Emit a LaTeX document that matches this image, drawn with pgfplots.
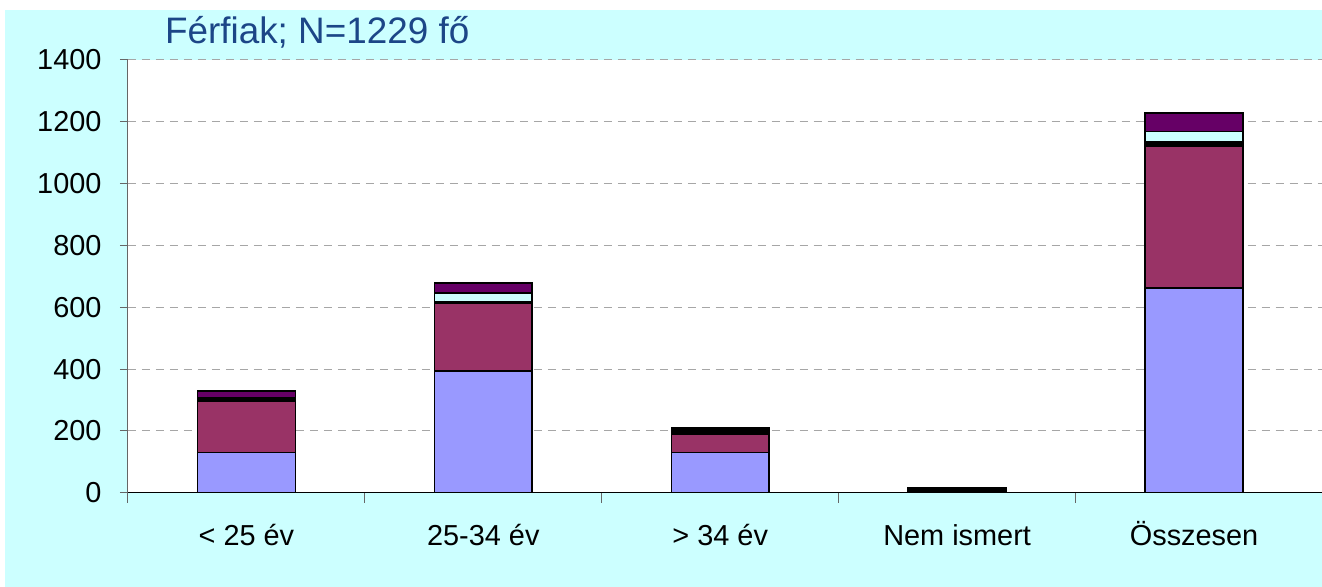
\documentclass[border=0pt]{standalone}
\usepackage{pgfplots}
\pgfplotsset{compat=1.18}
\usepackage{fontspec}
\setmainfont{Liberation Sans}
\definecolor{lav}{HTML}{9999FF}
\definecolor{mar}{HTML}{993366}
\definecolor{cya}{HTML}{CCFFFF}
\definecolor{pur}{HTML}{660066}
\definecolor{bgc}{HTML}{CCFFFF}
\definecolor{ttl}{RGB}{28,70,135}
\begin{document}
\begin{tikzpicture}[x=1bp,y=1bp]
\fill[white] (0,0) rectangle (1322,587);
\fill[bgc] (5,0) rectangle (1322,577);
\begin{axis}[
  at={(128bp,94bp)}, anchor=south west,
  scale only axis, width=1194bp, height=433bp,
  xmin=-0.5, xmax=4.538, ymin=0, ymax=1400,
  ybar stacked, bar width=0.413,
  axis background/.style={fill=white},
  axis x line*=bottom, axis y line*=left,
  x axis line style={black, line width=1bp},
  y axis line style={gray!80!black, line width=1bp},
  xtick={0,1,2,3,4},
  xticklabels={{< 25 év},{25-34 év},{> 34 év},{Nem ismert},{Összesen}},
  major x tick style={draw=none},
  minor xtick={-0.5,0.5,1.5,2.5,3.5},
  minor x tick style={gray!80!black, line width=1bp},
  minor tick length=10bp,
  ytick={0,200,...,1400},
  y tick style={gray!80!black, line width=1bp},
  major tick length=8bp,
  tick align=outside,
  ymajorgrids,
  major grid style={gray!70, line width=1bp, dash pattern=on 8bp off 6bp},
  /pgf/number format/assume math mode=true,
  /pgf/number format/1000 sep={},
  tick label style={font=\fontsize{29}{34}\selectfont, black},
  xticklabel style={yshift=-18bp, text height=23bp, text depth=6bp},
  yticklabel style={xshift=-15bp},
  every axis plot/.append style={draw=black, line width=1.5bp},
]
\addplot[fill=lav] coordinates {(0,130) (1,394) (2,130) (3,4) (4,663)};
\addplot[fill=mar] coordinates {(0,167) (1,220) (2,58) (3,4) (4,459)};
\addplot[fill=black] coordinates {(0,8) (1,4) (2,12) (3,3) (4,13)};
\addplot[fill=cya] coordinates {(0,2) (1,28) (2,4) (3,2) (4,33)};
\addplot[fill=pur] coordinates {(0,23) (1,33) (2,6) (3,3) (4,61)};
\end{axis}
\node[anchor=west, text=ttl, font=\fontsize{37}{42}\selectfont, inner sep=0pt] at (165,555) {Férfiak; N=1229 fő};
\end{tikzpicture}
\end{document}
